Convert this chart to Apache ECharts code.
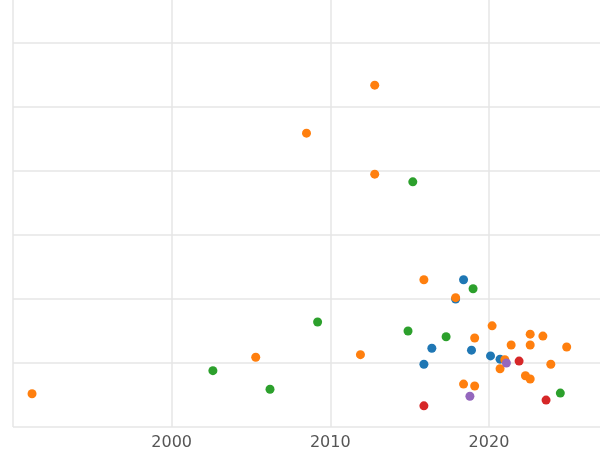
<!DOCTYPE html>
<html>
<head>
<meta charset="utf-8">
<script src="https://cdn.jsdelivr.net/npm/echarts@6/dist/echarts.min.js"></script>
<style>
  html, body { margin: 0; padding: 0; background: #fff; }
  #chart { width: 600px; height: 450px; }
</style>
</head>
<body>
<div id="chart"></div>
<script>
// [year, value] per group
const blue = [[2018.4, 2.30], [2017.9, 2.00], [2016.4, 1.23], [2015.9, 0.98], [2018.9, 1.20], [2020.1, 1.11], [2020.7, 1.06]]
const orange = [[1991.2, 0.52], [2005.3, 1.09], [2008.5, 4.59], [2012.8, 5.34], [2012.8, 3.95], [2011.9, 1.13],
  [2015.9, 2.30], [2017.9, 2.02], [2018.4, 0.67], [2019.1, 0.64], [2019.1, 1.39], [2020.2, 1.58], [2020.7, 0.91],
  [2021.0, 1.05], [2021.4, 1.28], [2022.3, 0.80], [2022.6, 0.75], [2022.6, 1.45], [2022.6, 1.28], [2023.4, 1.42],
  [2023.9, 0.98], [2024.9, 1.25]]
const green = [[2015.2, 3.83], [2019.0, 2.16], [2009.2, 1.64], [2014.9, 1.50], [2017.3, 1.41], [2002.6, 0.88],
  [2006.2, 0.59], [2024.5, 0.53]]
const red = [[2015.9, 0.33], [2021.9, 1.03], [2023.6, 0.42]]
const purple = [[2018.8, 0.48], [2021.1, 1.00]]

const groups = [
  { data: blue, color: '#1f77b4' },
  { data: orange, color: '#ff7f0e' },
  { data: green, color: '#2ca02c' },
  { data: red, color: '#d62728' },
  { data: purple, color: '#9467bd' }
]

const myChart = echarts.init(document.getElementById('chart'))
myChart.setOption({
  animation: false,
  grid: { left: 13, right: 0, top: 0, bottom: 23, containLabel: false, outerBoundsMode: 'none' },
  xAxis: {
    type: 'value',
    min: 1990,
    max: 2027,
    interval: 10,
    axisLine: { show: false },
    axisTick: { show: false },
    splitLine: { showMaxLine: false, lineStyle: { color: '#e6e6e6', width: 1.5 } },
    axisLabel: {
      color: '#555',
      fontSize: 16,
      fontFamily: 'DejaVu Sans',
      margin: 8,
      showMaxLabel: false,
      formatter: v => (v === 1990 || v === 2027 ? '' : String(v))
    }
  },
  yAxis: {
    type: 'value',
    min: 0,
    max: 6.67,
    interval: 1,
    axisLine: { show: false },
    axisTick: { show: false },
    axisLabel: { show: false },
    splitLine: { showMaxLine: false, lineStyle: { color: '#e6e6e6', width: 1.5 } }
  },
  series: groups.map(g => ({
    type: 'scatter',
    data: g.data,
    symbolSize: 9,
    itemStyle: { color: g.color, opacity: 1 }
  }))
})
</script>
</body>
</html>
